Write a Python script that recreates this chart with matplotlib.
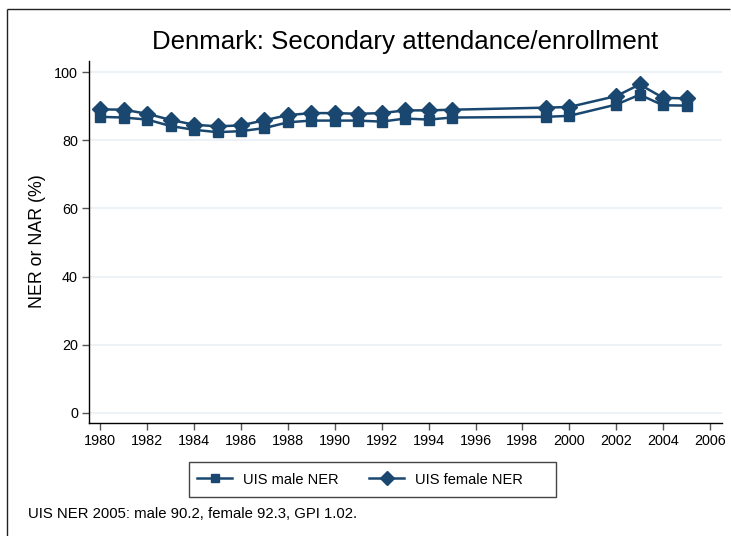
import matplotlib
matplotlib.use("Agg")
import matplotlib.pyplot as plt
from matplotlib.lines import Line2D
from matplotlib.patches import Rectangle

plt.rcParams['font.family'] = ['Liberation Sans', 'DejaVu Sans']

years = [1980, 1981, 1982, 1983, 1984, 1985, 1986, 1987, 1988, 1989, 1990,
         1991, 1992, 1993, 1994, 1995, 1999, 2000, 2002, 2003, 2004, 2005]
male_ner = [86.9, 86.7, 86.1, 84.2, 83.1, 82.4, 82.7, 83.6, 85.3, 85.8, 85.8,
            85.8, 85.5, 86.4, 86.1, 86.7, 86.9, 87.2, 90.5, 93.4, 90.3, 90.2]
female_ner = [89.1, 89.0, 87.8, 86.0, 84.6, 84.1, 84.4, 85.9, 87.4, 88.0, 88.0,
              87.8, 88.0, 88.8, 88.8, 89.0, 89.6, 89.8, 93.0, 96.4, 92.5, 92.3]
xticks = list(range(1980, 2007, 2))
yticks = [0, 20, 40, 60, 80, 100]
title = "Denmark: Secondary attendance/enrollment"
ylabel = "NER or NAR (%)"
labels = ["UIS male NER", "UIS female NER"]
note = "UIS NER 2005: male 90.2, female 92.3, GPI 1.02."

W, H = 731, 536
fig = plt.figure(figsize=(W / 100, H / 100), dpi=100)
fig.patch.set_edgecolor('white')
fig.patch.set_linewidth(0)
color = "#1a476f"

# outer frame (top and left lines only)
fig.add_artist(Line2D([7 / W, (W - 1) / W], [1 - 9 / H, 1 - 9 / H],
                      transform=fig.transFigure, color="#222222", lw=1.0,
                      solid_capstyle='butt'))
fig.add_artist(Line2D([7 / W, 7 / W], [0, 1 - 9 / H], transform=fig.transFigure,
                      color="#222222", lw=1.0, solid_capstyle='butt'))

L, R, T, B = 89, 722, 61, 423
ax = fig.add_axes([L / W, 1 - B / H, (R - L) / W, (B - T) / H])

ax.plot(years, male_ner, color=color, lw=1.8, marker='s', markersize=7.5,
        label=labels[0], zorder=3)
ax.plot(years, female_ner, color=color, lw=1.8, marker='D', markersize=8.5,
        label=labels[1], zorder=3)

ax.set_xlim(1979.52, 2006.51)
ax.set_ylim(-3.0, 103.3)
ax.set_xticks(xticks)
ax.set_yticks(yticks)
ax.tick_params(axis='both', direction='out', length=5, width=1, color='#555555',
               labelsize=10.4, pad=3)
for y in yticks:
    ax.axhline(y, color='#eaf0f5', lw=1.2, zorder=0)

for s in ['top', 'right']:
    ax.spines[s].set_visible(False)
for s in ['left', 'bottom']:
    ax.spines[s].set_color('black')
    ax.spines[s].set_linewidth(1.0)

fig.text(37 / W, 1 - 241.5 / H, ylabel, rotation=90, ha='center', va='center',
         fontsize=12.8)
fig.text(405.5 / W, 1 - 42 / H, title, ha='center', va='center', fontsize=18.6)

# legend box drawn as a figure rectangle behind, entries placed without frame
fig.add_artist(Rectangle((189 / W, 1 - 497 / H), (556 - 189) / W, (497 - 462) / H,
                         transform=fig.transFigure, facecolor='none',
                         edgecolor='#444444', lw=1.0, zorder=-1))
leg = ax.legend(loc='center left', bbox_to_anchor=(197 / W, 1 - 479.5 / H),
                bbox_transform=fig.transFigure, ncol=2, frameon=False,
                fontsize=10.5, handlelength=2.4, handletextpad=0.75,
                columnspacing=2.1, borderpad=0.0, borderaxespad=0.0,
                markerscale=0.8)

fig.text(28 / W, 1 - 514 / H, note, ha='left', va='center', fontsize=10.7)

fig.savefig("out.png", dpi=100, facecolor='white', edgecolor='white')
